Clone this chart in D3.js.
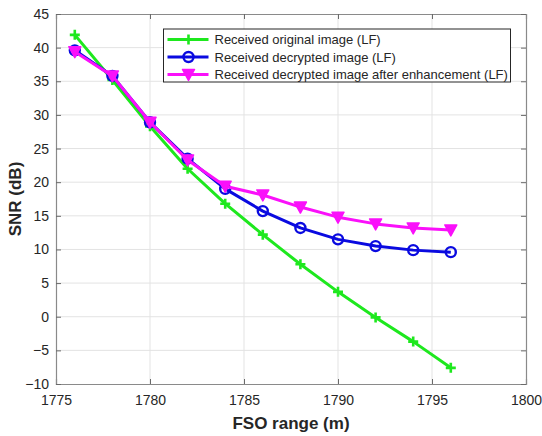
<!DOCTYPE html>
<html>
<head>
<meta charset="utf-8">
<script src="https://cdn.jsdelivr.net/npm/d3@7"></script>
<style>
  body { margin: 0; background: #fff; }
  svg text { font-family: "Liberation Sans", Arial, sans-serif; fill: #262626; }
</style>
</head>
<body>
<svg id="chart" width="542" height="436"></svg>
<script>
// data
const ranges = [1776, 1778, 1780, 1782, 1784, 1786, 1788, 1790, 1792, 1794, 1796];
const snrOriginal = [41.9, 35.2, 28.3, 22.0, 16.8, 12.2, 7.8, 3.7, -0.1, -3.7, -7.6];
const snrDecrypted = [39.6, 35.8, 28.9, 23.5, 19.0, 15.7, 13.2, 11.5, 10.5, 9.9, 9.6];
const snrEnhanced = [39.4, 35.8, 28.9, 23.3, 19.4, 18.1, 16.3, 14.8, 13.8, 13.2, 12.9];
const xTicks = [1775, 1780, 1785, 1790, 1795, 1800];
const yTicks = [-10, -5, 0, 5, 10, 15, 20, 25, 30, 35, 40, 45];
const seriesNames = ["Received original image (LF)", "Received decrypted image (LF)",
                     "Received decrypted image after enhancement (LF)"];

const margin = {top: 14, right: 16, bottom: 52, left: 56};
const W = 542, H = 436;
const w = W - margin.left - margin.right;
const h = H - margin.top - margin.bottom;

const svg = d3.select("#chart");
const g = svg.append("g").attr("transform", "translate(" + margin.left + "," + margin.top + ")");

const x = d3.scaleLinear().domain([1775, 1800]).range([0, w]);
const y = d3.scaleLinear().domain([-10, 45]).range([h, 0]);

// grid
g.append("g").selectAll("line").data(xTicks.slice(1, -1)).enter().append("line")
  .attr("x1", d => x(d)).attr("x2", d => x(d)).attr("y1", 0).attr("y2", h)
  .attr("stroke", "#e3e3e3").attr("stroke-width", 1);
g.append("g").selectAll("line").data(yTicks.slice(1, -1)).enter().append("line")
  .attr("y1", d => y(d)).attr("y2", d => y(d)).attr("x1", 0).attr("x2", w)
  .attr("stroke", "#e3e3e3").attr("stroke-width", 1);

// axes (ticks inward, box on)
const xAxis = g.append("g").attr("transform", "translate(0," + h + ")")
  .call(d3.axisBottom(x).tickValues(xTicks).tickSize(-5).tickPadding(11).tickFormat(d3.format("")));
const xTop = g.append("g").call(d3.axisTop(x).tickValues(xTicks).tickSize(-5).tickFormat(""));
const yAxis = g.append("g")
  .call(d3.axisLeft(y).tickValues(yTicks).tickSize(-5).tickPadding(7));
const yRight = g.append("g").attr("transform", "translate(" + w + ",0)")
  .call(d3.axisRight(y).tickValues(yTicks).tickSize(-5).tickFormat(""));
[xAxis, xTop, yAxis, yRight].forEach(a => {
  a.select(".domain").attr("stroke", "#8a8a8a").attr("stroke-width", 1.2);
  a.selectAll(".tick line").attr("stroke", "#6a6a6a");
  a.selectAll("text").style("font-size", "14px").attr("fill", "#262626")
    .style("font-family", '"Liberation Sans", Arial, sans-serif');
});

// axis labels
svg.append("text").attr("x", margin.left + w / 2).attr("y", 429)
  .attr("text-anchor", "middle").style("font-size", "17px").style("font-weight", "bold")
  .text("FSO range (m)");
svg.append("text").attr("transform", "translate(21," + (margin.top + h / 2) + ") rotate(-90)")
  .attr("text-anchor", "middle").style("font-size", "17px").style("font-weight", "bold")
  .text("SNR (dB)");

// markers
function drawMarker(sel, type, color) {
  if (type === "plus") {
    sel.append("path").attr("d", "M-5,0H5M0,-5V5")
      .attr("stroke", color).attr("stroke-width", 2.6).attr("fill", "none");
  } else if (type === "circle") {
    sel.append("circle").attr("r", 5).attr("fill", "none")
      .attr("stroke", color).attr("stroke-width", 2.4);
  } else {
    sel.append("path").attr("d", "M-6,-5H6L0,6Z")
      .attr("fill", color).attr("stroke", color).attr("stroke-width", 1.5)
      .attr("stroke-linejoin", "round");
  }
}

const series = [
  {name: seriesNames[0], values: snrOriginal, color: "#1ee81e", marker: "plus"},
  {name: seriesNames[1], values: snrDecrypted, color: "#0a0ae0", marker: "circle"},
  {name: seriesNames[2], values: snrEnhanced, color: "#fa10fa", marker: "tri"}
];

const line = d3.line().x(d => x(d[0])).y(d => y(d[1]));
series.forEach(s => {
  const pts = ranges.map((r, i) => [r, s.values[i]]);
  g.append("path").datum(pts).attr("d", line)
    .attr("fill", "none").attr("stroke", s.color).attr("stroke-width", 3)
    .attr("stroke-linejoin", "round");
  g.append("g").selectAll("g").data(pts).enter().append("g")
    .attr("transform", d => "translate(" + x(d[0]) + "," + y(d[1]) + ")")
    .each(function() { drawMarker(d3.select(this), s.marker, s.color); });
});

// legend
const leg = svg.append("g").attr("transform", "translate(163.5,29)");
leg.append("rect").attr("width", 347).attr("height", 53)
  .attr("fill", "#fff").attr("stroke", "#262626").attr("stroke-width", 1);
series.forEach((s, i) => {
  const row = leg.append("g").attr("transform", "translate(0," + (10.5 + i * 17.5) + ")");
  row.append("line").attr("x1", 4).attr("x2", 45).attr("y1", 0).attr("y2", 0)
    .attr("stroke", s.color).attr("stroke-width", 3);
  drawMarker(row.append("g").attr("transform", "translate(25,0)"), s.marker, s.color);
  row.append("text").attr("x", 51).attr("y", 4.5).style("font-size", "13px").text(s.name);
});
</script>
</body>
</html>
